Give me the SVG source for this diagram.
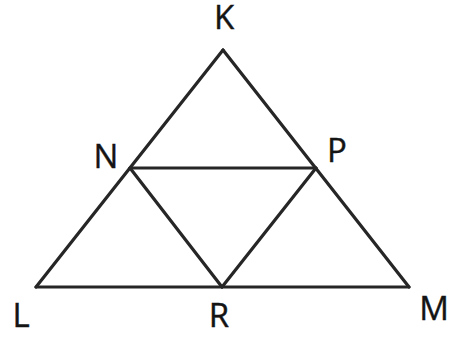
<svg xmlns="http://www.w3.org/2000/svg" width="451" height="338" viewBox="0 0 451 338">
<style>
.e{stroke:#262626;stroke-width:3.2;fill:none;stroke-linejoin:round;stroke-linecap:round}
.t{font-family:"Open Sans","Noto Sans","Liberation Sans",sans-serif;font-size:33px;fill:#141414;text-anchor:middle;stroke:#141414;stroke-width:0.4}
</style>
<rect width="451" height="338" fill="#fff"/>
<g id="connectors">
<line class="e" x1="223" y1="50" x2="36" y2="287"/>
<line class="e" x1="223" y1="50" x2="409" y2="287"/>
<line class="e" x1="36" y1="287" x2="409" y2="287"/>
<line class="e" x1="130" y1="168" x2="316" y2="168"/>
<line class="e" x1="130" y1="168" x2="222" y2="287"/>
<line class="e" x1="316" y1="168" x2="222" y2="287"/>
</g>
<g id="K"><text class="t" x="224" y="29">K</text></g>
<g id="N"><text class="t" x="106" y="168">N</text></g>
<g id="P"><text class="t" x="337" y="162">P</text></g>
<g id="L"><text class="t" x="21" y="327">L</text></g>
<g id="R"><text class="t" x="219" y="327">R</text></g>
<g id="M"><text class="t" x="434" y="320">M</text></g>
</svg>
